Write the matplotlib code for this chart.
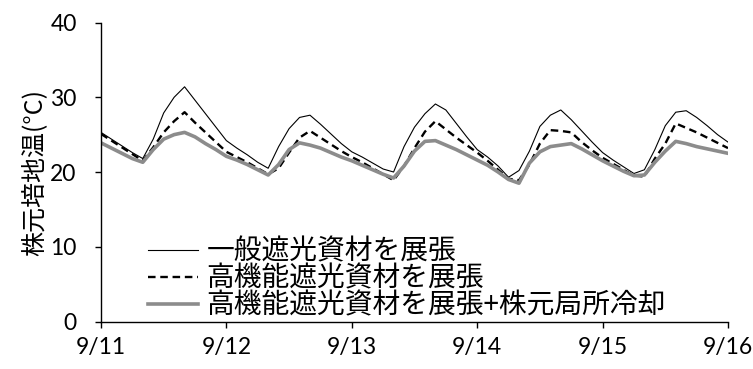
import matplotlib
matplotlib.use("Agg")
import matplotlib.pyplot as plt

plt.rcParams['font.family'] = ['Lato', 'Noto Sans CJK JP', 'DejaVu Sans']

# Elapsed hours from 9/11 00:00, sampled every 2 h
hours = list(range(0, 121, 2))

# Root-zone medium temperature (°C) for each treatment
general_shade = [
    25.3, 24.4, 23.5, 22.6, 21.8, 24.4, 27.9, 30.0, 31.4, 29.6, 27.8, 26.0,
    24.2, 23.2, 22.3, 21.3, 20.5, 23.4, 25.8, 27.3, 27.6, 26.4, 25.1, 23.8,
    22.7, 22.0, 21.2, 20.4, 20.0, 23.4, 26.0, 27.8, 29.1, 28.3, 26.5, 24.7,
    23.0, 22.0, 20.8, 19.3, 20.2, 22.8, 26.1, 27.6, 28.3, 27.0, 25.5, 24.0,
    22.6, 21.6, 20.7, 19.8, 20.3, 23.0, 26.2, 28.0, 28.2, 27.3, 26.2, 25.0,
    24.0,
]
high_shade = [
    25.1, 24.2, 23.3, 22.4, 21.5, 23.3, 25.3, 26.8, 28.0, 26.6, 25.3, 24.0,
    22.7, 22.0, 21.3, 20.5, 19.7, 20.5, 22.6, 24.6, 25.5, 24.6, 23.7, 22.8,
    22.0, 21.3, 20.5, 19.7, 18.9, 20.8, 23.2, 25.4, 26.8, 25.7, 24.6, 23.6,
    22.6, 21.5, 20.3, 19.1, 18.9, 21.0, 23.8, 25.6, 25.5, 25.3, 24.0, 22.9,
    21.9, 21.1, 20.3, 19.5, 19.4, 21.8, 23.8, 26.5, 25.9, 25.3, 24.6, 23.9,
    23.2,
]
high_shade_cooling = [
    23.9, 23.2, 22.5, 21.8, 21.3, 23.0, 24.4, 25.0, 25.3, 24.7, 23.8, 23.0,
    22.1, 21.6, 21.0, 20.3, 19.6, 21.0, 23.0, 23.9, 23.6, 23.2, 22.6, 22.0,
    21.5, 20.9, 20.3, 19.7, 19.2, 20.8, 22.8, 24.1, 24.2, 23.6, 23.0, 22.3,
    21.6, 20.9, 20.0, 19.0, 18.5, 21.2, 22.7, 23.4, 23.6, 23.8, 23.1, 22.3,
    21.5, 20.8, 20.1, 19.5, 19.6, 21.3, 22.8, 24.1, 23.8, 23.4, 23.1, 22.8,
    22.5,
]

series_labels = ['一般遮光資材を展張', '高機能遮光資材を展張', '高機能遮光資材を展張+株元局所冷却']
date_labels = ['9/11', '9/12', '9/13', '9/14', '9/15', '9/16']
date_ticks = [0, 24, 48, 72, 96, 120]
y_ticks = [0, 10, 20, 30, 40]

fig = plt.figure(figsize=(7.53, 3.69), dpi=100)
ax = fig.add_axes([0.1341, 0.1287, 0.8327, 0.8103])

ax.plot(hours, general_shade, color='black', lw=0.8, label=series_labels[0])
ax.plot(hours, high_shade, color='black', lw=1.7, dashes=(3.2, 2.0), label=series_labels[1])
ax.plot(hours, high_shade_cooling, color='#8c8c8c', lw=2.6, label=series_labels[2])

ax.set_xlim(0, 120)
ax.set_ylim(0, 40)
ax.set_xticks(date_ticks)
ax.set_xticklabels(date_labels)
ax.set_yticks(y_ticks)

for side in ('top', 'right'):
    ax.spines[side].set_visible(False)
for side in ('left', 'bottom'):
    ax.spines[side].set_linewidth(1.0)
ax.tick_params(axis='both', direction='out', length=4.5, width=1.0, labelsize=16.5)
ax.tick_params(axis='y', pad=13)
ax.tick_params(axis='x', pad=7)

ax.set_ylabel('株元培地温(°C)', fontsize=18, family=['Noto Sans CJK JP', 'DejaVu Sans'], labelpad=2)

leg = ax.legend(loc='lower left', bbox_to_anchor=(0.057, -0.035), frameon=False,
                prop={'family': ['Noto Sans CJK JP', 'DejaVu Sans'], 'size': 20},
                handlelength=1.8, handletextpad=0.32, labelspacing=-0.1, borderaxespad=0)

fig.savefig('out.png', dpi=100)
